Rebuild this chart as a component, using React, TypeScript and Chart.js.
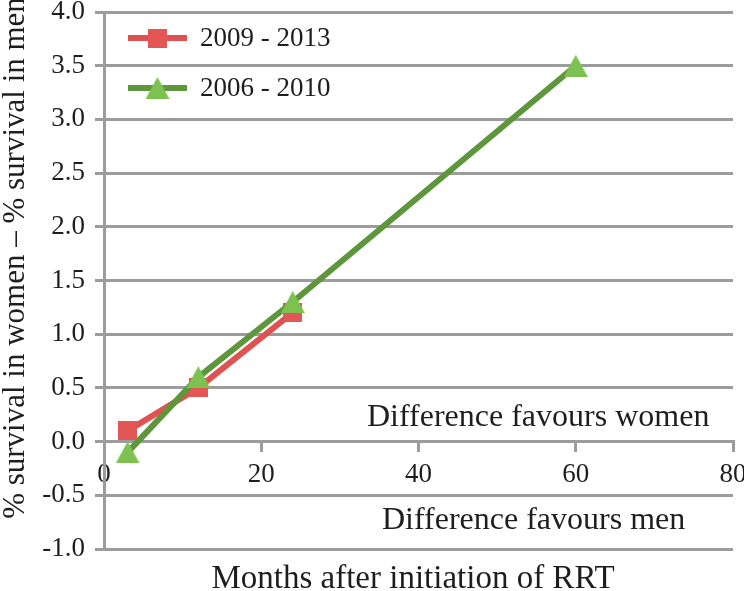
import React, { useEffect, useRef } from "react";
import { Chart, registerables } from "chart.js";

Chart.register(...registerables);

// ---- data ----
const seriesLabels = ["2009 - 2013", "2006 - 2010"];
const months2009 = [3, 12, 24];
const diff2009 = [0.1, 0.5, 1.2];
const months2006 = [3, 12, 24, 60];
const diff2006 = [-0.1, 0.6, 1.3, 3.5];
const xTickValues = [0, 20, 40, 60, 80];
const yTickValues = [-1.0, -0.5, 0.0, 0.5, 1.0, 1.5, 2.0, 2.5, 3.0, 3.5, 4.0];
const xTitle = "Months after initiation of RRT";
const yTitle = "% survival in women \u2013 % survival in men";
const noteAbove = "Difference favours women";
const noteBelow = "Difference favours men";

// ---- styles ----
const FONT = "'Liberation Serif', 'Times New Roman', serif";
const RED_LINE = "#E05252";
const RED_MARK = "#E35656";
const GREEN_LINE = "#5E963C";
const GREEN_MARK = "#7DC250";
const GRID = "#9C9C9C";
const TEXT = "#1E1E1E";

function makeSquare(size: number, color: string) {
  const c = document.createElement("canvas");
  c.width = size;
  c.height = size;
  const ctx = c.getContext("2d")!;
  ctx.fillStyle = color;
  ctx.fillRect(0, 0, size, size);
  return c;
}

function makeTriangle(w: number, h: number, color: string) {
  const c = document.createElement("canvas");
  c.width = w;
  c.height = h;
  const ctx = c.getContext("2d")!;
  ctx.fillStyle = color;
  ctx.beginPath();
  ctx.moveTo(w / 2, 0);
  ctx.lineTo(w, h);
  ctx.lineTo(0, h);
  ctx.closePath();
  ctx.fill();
  return c;
}

export default function App() {
  const ref = useRef<HTMLCanvasElement>(null);

  useEffect(() => {
    document.body.style.margin = "0";
    const square = makeSquare(19, RED_MARK);
    const triangle = makeTriangle(24, 22, GREEN_MARK);

    const overlay = {
      id: "overlay",
      afterDraw(chart: any) {
        const ctx = chart.ctx as CanvasRenderingContext2D;
        const y0 = chart.scales.y.getPixelForValue(0);
        ctx.save();
        ctx.fillStyle = TEXT;
        ctx.font = `32px ${FONT}`;
        ctx.textBaseline = "alphabetic";
        ctx.textAlign = "left";
        ctx.fillText(noteAbove, 367, y0 - 16);
        ctx.fillText(noteBelow, 382, y0 + 87);

        // x title
        ctx.font = `33px ${FONT}`;
        ctx.textAlign = "center";
        ctx.fillText(xTitle, 413, 588);

        // y title
        ctx.save();
        ctx.translate(24, 258);
        ctx.rotate(-Math.PI / 2);
        ctx.font = `31px ${FONT}`;
        ctx.textAlign = "center";
        ctx.fillText(yTitle, 0, 0);
        ctx.restore();

        // legend
        const rows = [
          { y: 38, line: RED_LINE, img: square, label: seriesLabels[0] },
          { y: 88, line: GREEN_LINE, img: triangle, label: seriesLabels[1] },
        ];
        ctx.font = `27px ${FONT}`;
        ctx.textAlign = "left";
        ctx.textBaseline = "middle";
        for (const r of rows) {
          ctx.strokeStyle = r.line;
          ctx.lineWidth = 6;
          ctx.lineCap = "butt";
          ctx.beginPath();
          ctx.moveTo(128, r.y);
          ctx.lineTo(187, r.y);
          ctx.stroke();
          ctx.drawImage(r.img, 157.5 - r.img.width / 2, r.y - r.img.height / 2);
          ctx.fillStyle = TEXT;
          ctx.fillText(r.label, 200, r.y + 1);
        }
        ctx.restore();
      },
    };

    const chart = new Chart(ref.current!, {
      type: "line",
      data: {
        datasets: [
          {
            label: seriesLabels[0],
            data: months2009.map((m, i) => ({ x: m, y: diff2009[i] })),
            borderColor: RED_LINE,
            backgroundColor: RED_MARK,
            borderWidth: 6,
            pointStyle: square as any,
            pointRadius: 1,
            pointHoverRadius: 1,
            pointBorderWidth: 0,
            tension: 0,
            borderJoinStyle: "round",
            order: 1,
          },
          {
            label: seriesLabels[1],
            data: months2006.map((m, i) => ({ x: m, y: diff2006[i] })),
            borderColor: GREEN_LINE,
            backgroundColor: GREEN_MARK,
            borderWidth: 6,
            pointStyle: triangle as any,
            pointRadius: 1,
            pointHoverRadius: 1,
            pointBorderWidth: 0,
            tension: 0,
            borderJoinStyle: "round",
            order: 0,
          },
        ],
      },
      options: {
        animation: false,
        responsive: false,
        devicePixelRatio: 1,
        layout: { autoPadding: false, padding: { top: 12, right: 11, bottom: 42, left: 0 } },
        plugins: { legend: { display: false }, tooltip: { enabled: false } },
        scales: {
          x: {
            type: "linear",
            position: { y: 0 } as any,
            min: xTickValues[0],
            max: xTickValues[xTickValues.length - 1],
            afterBuildTicks: (s: any) => {
              s.ticks = xTickValues.map((v) => ({ value: v }));
            },
            afterFit: (s: any) => {
              s.paddingLeft = 0;
              s.paddingRight = 0;
            },
            grid: {
              display: true,
              drawOnChartArea: false,
              drawTicks: true,
              tickLength: 9,
              color: GRID,
              lineWidth: 3,
            },
            border: { display: true, color: GRID, width: 3 },
            ticks: {
              color: TEXT,
              font: { family: FONT, size: 27, lineHeight: 1 },
              padding: 11,
              maxRotation: 0,
              autoSkip: false,
              callback: (v: any) => String(v),
            },
          },
          y: {
            type: "linear",
            position: "left",
            min: yTickValues[0],
            max: yTickValues[yTickValues.length - 1],
            afterBuildTicks: (s: any) => {
              s.ticks = yTickValues.map((v) => ({ value: v }));
            },
            afterFit: (s: any) => {
              s.width = 104;
              s.paddingTop = 0;
              s.paddingBottom = 0;
            },
            grid: {
              color: GRID,
              lineWidth: 3,
              drawTicks: true,
              tickLength: 9,
            },
            border: { display: true, color: GRID, width: 3 },
            ticks: {
              color: TEXT,
              font: { family: FONT, size: 27, lineHeight: 1 },
              padding: 10,
              autoSkip: false,
              callback: (v: any) => Number(v).toFixed(1),
            },
          },
        },
      },
      plugins: [overlay],
    });
    return () => chart.destroy();
  }, []);

  return (
    <div style={{ width: 744, height: 591 }}>
      <canvas ref={ref} width={744} height={591} style={{ display: "block" }} />
    </div>
  );
}
